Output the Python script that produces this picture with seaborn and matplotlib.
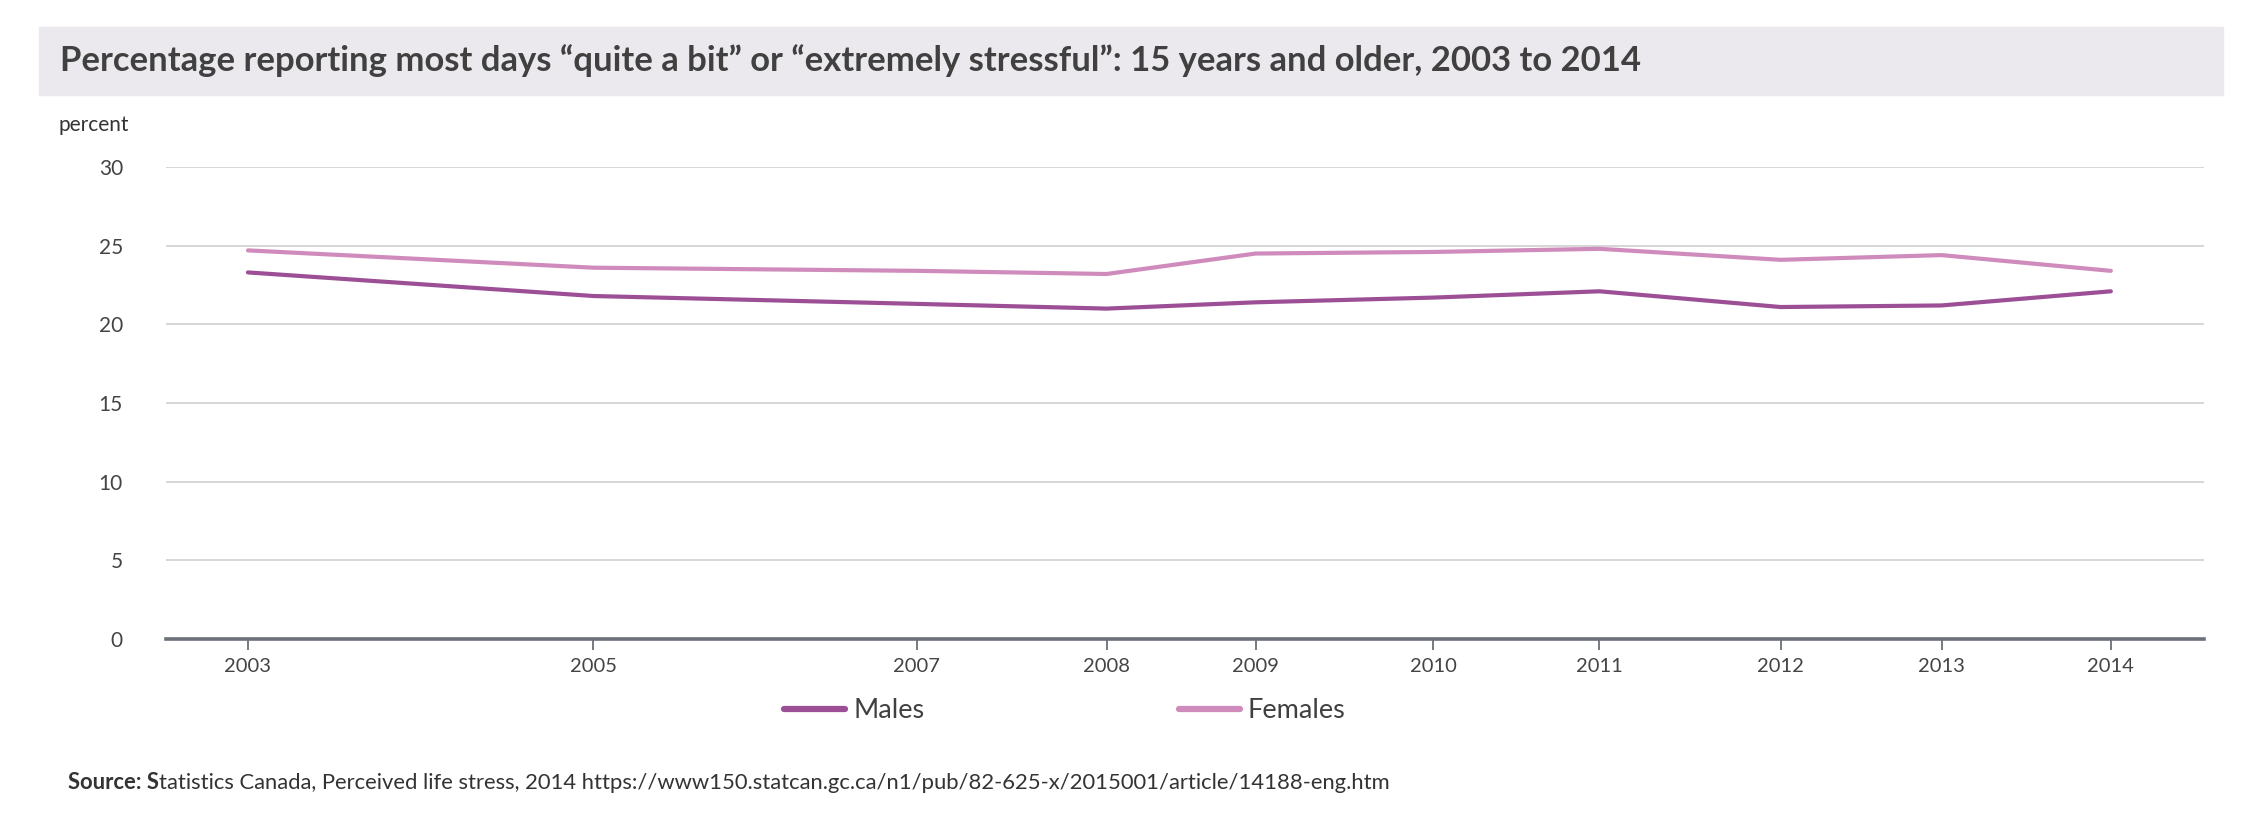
import pandas as pd
import matplotlib.pyplot as plt
from matplotlib.patches import Rectangle
import seaborn as sns

# Survey points (x position in decimal years, as placed on the source's time axis)
year_labels = ["2003", "2005", "2007", "2008", "2009", "2010", "2011", "2012", "2013", "2014"]
year_pos = [2003.0, 2005.04, 2006.95, 2008.07, 2008.95, 2010.0, 2010.98, 2012.05, 2013.0, 2014.0]
males = [23.3, 21.8, 21.3, 21.0, 21.4, 21.7, 22.1, 21.1, 21.2, 22.1]
females = [24.7, 23.6, 23.4, 23.2, 24.5, 24.6, 24.8, 24.1, 24.4, 23.4]
series = ["Males", "Females"]
colors = ["#9d4f96", "#cf8bbb"]

df = pd.DataFrame({
    "year": year_pos * 2,
    "percent": males + females,
    "sex": ["Males"] * len(males) + ["Females"] * len(females),
})

sns.set_theme(style="white")
plt.rcParams["font.family"] = ["Lato", "DejaVu Sans"]

W, H = 2262, 832
fig = plt.figure(figsize=(W / 100, H / 100), dpi=100)
ax = fig.add_axes([166 / W, 1 - 639 / H, (2204 - 166) / W, (639 - 167) / H])

sns.lineplot(data=df, x="year", y="percent", hue="sex", hue_order=series,
             palette=colors, linewidth=3, ax=ax, legend=False)

ax.set_xlim(2002.516, 2014.55)
ax.set_ylim(0, 30)
ax.set_yticks(range(0, 31, 5))
ax.set_xticks(year_pos)
ax.set_xticklabels(year_labels)
ax.set_xlabel("")
ax.set_ylabel("")

ax.grid(axis="y", color="#cfcfcf", linewidth=1.2)
ax.grid(axis="x", visible=False)
for s in ["top", "right", "left"]:
    ax.spines[s].set_visible(False)
ax.spines["bottom"].set_color("#6b7079")
ax.spines["bottom"].set_linewidth(2.6)
ax.tick_params(axis="y", length=0, pad=31, labelsize=15, labelcolor="#444444")
ax.tick_params(axis="x", length=8, width=1.3, color="#6b7079", pad=6,
               labelsize=14.5, labelcolor="#444444", bottom=True)

# title band
fig.patches.append(Rectangle((39 / W, 1 - 95 / H), (2223 - 39) / W, 68 / H,
                             transform=fig.transFigure, color="#ebe9ed", zorder=0))
fig.text(60 / W, 1 - 61 / H,
         "Percentage reporting most days \u201cquite a bit\u201d or \u201cextremely stressful\u201d: 15 years and older, 2003 to 2014",
         fontsize=24.9, fontweight="bold", color="#404040", va="center", ha="left")

fig.text(58 / W, 1 - 125 / H, "percent", fontsize=15, color="#333333", va="center")

# legend
handles = [plt.Line2D([], [], color=c, linewidth=4.5, solid_capstyle="round") for c in colors]
fig.legend(handles, series, loc="center left", bbox_to_anchor=(784 / W, 1 - 711 / H),
           ncol=2, frameon=False, fontsize=19.5, handlelength=2.25, handletextpad=0.3,
           columnspacing=9.4, borderpad=0, borderaxespad=0, labelcolor="#404040")

# source line
t1 = fig.text(68 / W, 1 - 793 / H, "Source: S", fontsize=15.8, fontweight="bold",
              color="#333333", va="bottom")
ax.annotate("tatistics Canada, Perceived life stress, 2014 https://www150.statcan.gc.ca/n1/pub/82-625-x/2015001/article/14188-eng.htm",
            xy=(1, 0), xycoords=t1, va="bottom", ha="left", fontsize=15.8,
            color="#333333", annotation_clip=False)

fig.savefig("out.png", dpi=100)
